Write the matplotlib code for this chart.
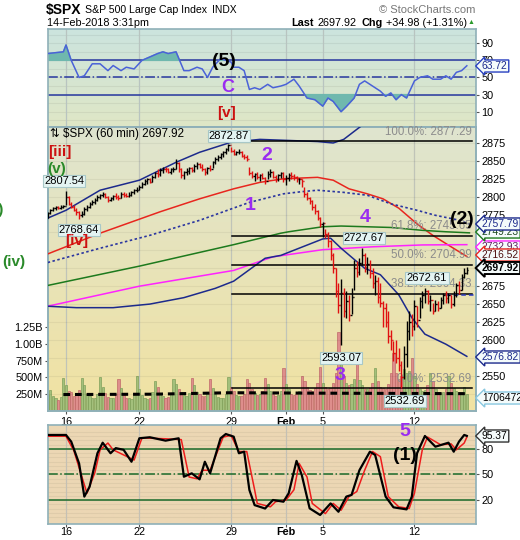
import numpy as np
import matplotlib.pyplot as plt
from matplotlib.colors import LinearSegmentedColormap

plt.rcParams['font.family'] = ['Liberation Sans', 'DejaVu Sans']

# hourly bars, index 0 = first hour of 12-Jan-2018, 7 bars per session
bar_high = [2778, 2783, 2786, 2787, 2787, 2789, 2789,
            2807.5, 2801, 2792, 2788, 2784, 2780, 2780,
            2785, 2788, 2792, 2795, 2798, 2802, 2804,
            2806, 2805, 2801, 2800, 2803, 2805, 2802,
            2806, 2807, 2805, 2806, 2808, 2811, 2813,
            2816, 2820, 2824, 2826, 2826, 2830, 2834,
            2838, 2840, 2841, 2842, 2840, 2840, 2841,
            2852, 2849, 2840, 2836, 2840, 2842, 2842,
            2846, 2848, 2847, 2845, 2840, 2842, 2844,
            2850, 2855, 2858, 2861, 2864, 2868, 2872.9,
            2870, 2866, 2864, 2866, 2864, 2860, 2858,
            2842, 2836, 2833, 2834, 2832, 2833, 2828,
            2836, 2839, 2836, 2830, 2832, 2835, 2834,
            2830, 2833, 2834, 2832, 2829, 2826, 2824,
            2813, 2806, 2800, 2796, 2790, 2782, 2772,
            2765, 2755, 2751, 2740, 2722, 2700, 2680,
            2685, 2672, 2668, 2662, 2672, 2712, 2710,
            2715, 2727.7, 2722, 2716, 2712, 2700, 2690,
            2688, 2680, 2654, 2652, 2640, 2614, 2598,
            2600, 2588, 2570, 2592, 2626, 2640, 2636,
            2656, 2648, 2660, 2668, 2672.6, 2670, 2662,
            2652, 2656, 2654, 2660, 2666, 2668, 2666,
            2662, 2668, 2680, 2682, 2692, 2700, 2702]
bar_low = [2770, 2776, 2780, 2782, 2783, 2783, 2784,
           2788, 2788, 2784, 2780, 2775, 2768.6, 2772,
           2775, 2780, 2784, 2788, 2790, 2794, 2797,
           2800, 2798, 2793, 2794, 2796, 2797, 2796,
           2798, 2800, 2799, 2799, 2801, 2804, 2806,
           2809, 2812, 2816, 2818, 2819, 2820, 2826,
           2828, 2829, 2833, 2834, 2833, 2832, 2834,
           2838, 2835, 2826, 2825, 2830, 2832, 2834,
           2834, 2838, 2840, 2836, 2830, 2832, 2836,
           2840, 2846, 2850, 2853, 2856, 2860, 2864,
           2862, 2858, 2858, 2860, 2855, 2852, 2850,
           2830, 2826, 2822, 2825, 2822, 2824, 2818,
           2824, 2828, 2826, 2820, 2822, 2826, 2820,
           2816, 2822, 2825, 2823, 2820, 2818, 2813,
           2800, 2795, 2790, 2782, 2776, 2768, 2758,
           2744, 2742, 2730, 2712, 2693, 2660, 2638,
           2593.1, 2632, 2630, 2626, 2636, 2670, 2688,
           2690, 2704, 2695, 2692, 2686, 2672, 2662,
           2652, 2646, 2618, 2618, 2596, 2586, 2570,
           2568, 2556, 2532.7, 2545, 2562, 2600, 2605,
           2614, 2618, 2630, 2645, 2652, 2650, 2640,
           2636, 2640, 2640, 2644, 2650, 2652, 2652,
           2645, 2648, 2660, 2664, 2670, 2686, 2692]
bar_close = [2777, 2782, 2784, 2785, 2784, 2786, 2787,
             2800, 2790, 2786, 2782, 2778, 2774, 2776,
             2783, 2786, 2790, 2793, 2796, 2800, 2802,
             2804, 2800, 2796, 2798, 2801, 2799, 2798,
             2804, 2802, 2801, 2803, 2806, 2809, 2810,
             2814, 2818, 2822, 2824, 2821, 2828, 2833,
             2832, 2837, 2839, 2838, 2835, 2838, 2839,
             2847, 2838, 2830, 2834, 2836, 2840, 2837,
             2843, 2845, 2842, 2838, 2834, 2840, 2839,
             2848, 2853, 2856, 2859, 2862, 2866, 2872,
             2864, 2860, 2862, 2863, 2857, 2855, 2853,
             2833, 2829, 2831, 2828, 2830, 2826, 2822,
             2832, 2834, 2828, 2825, 2830, 2833, 2824,
             2826, 2830, 2829, 2827, 2824, 2825, 2822,
             2804, 2798, 2794, 2785, 2780, 2770, 2762,
             2763, 2748, 2738, 2718, 2700, 2668, 2649,
             2665, 2640, 2655, 2635, 2660, 2700, 2695,
             2708, 2718, 2702, 2706, 2694, 2680, 2682,
             2660, 2652, 2645, 2625, 2605, 2600, 2581,
             2575, 2565, 2548, 2580, 2612, 2625, 2619.5,
             2648, 2628, 2655, 2662, 2668, 2655, 2656,
             2640, 2650, 2645, 2656, 2662, 2658, 2663,
             2650, 2662, 2676, 2670, 2688, 2694, 2697.9]
first_open = 2770
volume_m = [240, 310, 230, 190, 170, 210, 490,
            390, 300, 290, 230, 260, 310, 490,
            380, 260, 230, 200, 190, 260, 510,
            350, 270, 210, 190, 200, 250, 480,
            340, 250, 200, 190, 180, 240, 520,
            330, 240, 200, 180, 190, 280, 440,
            360, 270, 220, 200, 210, 250, 480,
            400, 320, 290, 240, 230, 270, 490,
            380, 290, 250, 220, 230, 280, 480,
            340, 250, 210, 200, 200, 250, 500,
            360, 300, 240, 220, 220, 260, 480,
            420, 330, 270, 240, 250, 300, 490,
            400, 300, 260, 230, 240, 300, 640,
            400, 320, 260, 240, 250, 300, 520,
            450, 360, 310, 300, 340, 420, 650,
            420, 350, 320, 340, 420, 560, 1180,
            760, 520, 420, 380, 400, 480, 860,
            460, 380, 330, 320, 340, 420, 640,
            440, 360, 340, 330, 400, 560, 860,
            560, 480, 520, 620, 560, 600, 790,
            520, 400, 330, 300, 310, 380, 560,
            440, 330, 290, 270, 280, 330, 520,
            420, 340, 300, 280, 290, 360, 260]
volma_idx = [6, 40, 70, 100, 130, 160]
volma_m = [245, 250, 272, 266, 262, 258]

# overlay lines (bar index, price)
navy_top_idx = [0, 7, 20, 35, 49, 58, 70, 81, 103, 109, 113, 118, 122]
navy_top_val = [2770, 2781, 2809, 2823, 2848, 2862, 2876, 2880, 2877, 2875, 2880, 2894, 2905]
red_idx = [0, 20, 43, 58, 71, 81, 90, 103, 109, 115, 122, 128, 134, 141, 147, 154, 160]
red_val = [2720, 2749, 2779, 2797, 2811, 2820, 2825, 2827, 2823, 2811, 2804, 2797, 2784,
           2762, 2746, 2730, 2716.5]
dot_idx = [0, 20, 39, 58, 77, 90, 97, 103, 113, 122, 131, 141, 148, 156, 161]
dot_val = [2708, 2728, 2746, 2767, 2792, 2804, 2807, 2809, 2806, 2802, 2790, 2781, 2774,
           2768, 2762]
green_idx = [0, 35, 71, 89, 92, 105, 112, 131, 143, 152, 161]
green_val = [2676, 2703, 2733, 2749, 2751, 2758, 2759, 2757, 2753, 2751, 2749.5]
mag_idx = [0, 35, 71, 86, 105, 124, 143, 160]
mag_val = [2647, 2675, 2697, 2716, 2726, 2730, 2732.6, 2733]
navy_low_idx = [0, 11, 25, 39, 52, 64, 71, 83, 89, 105, 108, 112, 121, 127, 134, 139, 144,
                152, 160]
navy_low_val = [2647, 2645, 2645, 2650, 2659, 2672, 2682, 2714, 2718, 2741, 2742, 2728,
                2700, 2691, 2663, 2631, 2608, 2594, 2577]
fib_pct = ['100.0%', '61.8%', '50.0%', '38.2%', '0.0%']
fib_val = [2877.29, 2745.65, 2704.99, 2664.33, 2532.69]

rsi_idx = [0, 6, 7, 9, 12, 14, 17, 20, 23, 25, 28, 30, 33, 36, 42, 44, 46, 49, 52, 54,
           57, 59, 61, 63, 66, 70, 71, 73, 75, 77, 79, 81, 84, 86, 89, 91, 94, 96, 99, 102,
           105, 107, 109, 112, 114, 117, 119, 121, 123, 127, 129, 131, 133, 135, 137, 140,
           142, 145, 147, 150, 152, 154, 156, 158, 160]
rsi_val = [78, 80, 88, 70, 50, 52, 66, 66, 58, 64, 58, 62, 60, 70, 78, 80, 78, 80, 58, 58,
           62, 60, 50, 62, 72, 68, 62, 62, 58, 36, 38, 36, 42, 38, 40, 42, 48, 40, 26, 24,
           16.5, 26, 22, 10, 16, 26, 42, 46, 42, 34, 28, 32, 24, 30, 26, 46, 50, 52, 48, 48,
           52, 48, 56, 58, 63.7]

stk_idx = [0, 7, 9, 12, 14, 16, 19, 21, 24, 26, 29, 32, 35, 39, 45, 50, 52, 55, 58, 60,
           62, 66, 68, 71, 73, 75, 77, 79, 83, 86, 90, 92, 95, 97, 100, 104, 108, 111, 114,
           116, 119, 123, 125, 129, 132, 137, 139, 141, 144, 148, 153, 155, 157, 159, 160]
stk_k = [96.5, 96.5, 88.6, 63, 24, 35.6, 75, 87.4, 75, 81, 79, 65, 92.6, 93.8, 89.8, 92.6,
         47.4, 51.4, 44.3, 65, 51.4, 92.6, 97.6, 94.5, 75, 76.8, 31.8, 14, 10, 20, 18, 27.9,
         66, 49.4, 10.2, 2.4, 16, 6.2, 24, 26, 55, 76.8, 73, 24, 11.4, 9, 24, 75, 95.3, 82.7,
         87.4, 76.8, 88.6, 96.5, 95.4]
std_idx = [0, 7, 10, 15, 18, 20, 23, 25, 33, 36, 45, 51, 54, 57, 59, 62, 67, 70, 73, 76,
           79, 80, 85, 87, 91, 94, 96, 99, 101, 106, 109, 112, 115, 118, 121, 124, 127, 130,
           134, 138, 140, 143, 145, 150, 154, 156, 159, 160]
std_d = [95, 95, 78, 28, 52, 79, 87, 79, 67, 93, 92, 91, 47, 45, 55, 55, 94, 96, 77, 77,
         32, 16, 12, 18, 20, 32, 63, 47, 16, 4, 16, 8, 24, 30, 55, 77, 71, 24, 12, 10, 28,
         79, 94, 85, 86, 79, 87, 94]

day_ticks = [7, 35, 70, 91, 105, 140]
day_labels = ['16', '22', '29', 'Feb', '5', '12']

# ---------------------------------------------------------------------------
W, H = 520, 540
fig = plt.figure(figsize=(W / 100, H / 100), dpi=100)
fig.patch.set_facecolor('white')
TICK_FS = 7.8


def fx(x):
    return x / W


def fy(y):
    return 1 - y / H


def panel(l, t, r, b, **kw):
    return fig.add_axes([fx(l), fy(b), (r - l) / W, (b - t) / H], **kw)


def gradient(a, top, bottom):
    cmap = LinearSegmentedColormap.from_list('bg', [bottom, top])
    a.imshow(np.linspace(0, 1, 100).reshape(-1, 1), cmap=cmap, aspect='auto',
             extent=(0, 1, 0, 1), transform=a.transAxes, origin='lower', zorder=0)


def frame(a):
    for s in a.spines.values():
        s.set_color('#8fb0b8')
        s.set_linewidth(1.2)
    a.tick_params(colors='#555555', labelcolor='black', length=2.5, width=0.8,
                  labelsize=TICK_FS, pad=1.5)


def bold_feb(a):
    for lab in a.get_xticklabels():
        if lab.get_text() == 'Feb':
            lab.set_fontweight('bold')


XLIM = (0.13, 163.5)
n = len(bar_close)
idx = np.arange(n)
bar_open = [first_open] + bar_close[:-1]
up = [bar_close[i] >= bar_open[i] for i in range(n)]

# ---- top panel: RSI ----
ax_r = panel(48, 29, 476, 127)
gradient(ax_r, '#cce4de', '#dfe7c6')
ax_r.set_xlim(*XLIM)
ax_r.set_ylim(-7.9, 106.7)
for v in range(0, 101, 10):
    ax_r.axhline(v, color='black', alpha=0.06, lw=0.8, zorder=1)
for t in day_ticks:
    ax_r.axvline(t, color='#b8c4c0', lw=0.9, zorder=1)
ax_r.axhline(70, color='#2838a0', lw=1.1, zorder=2)
ax_r.axhline(30, color='#2838a0', lw=1.1, zorder=2)
ax_r.axhline(50, color='#2838a0', lw=1.1, ls='-.', zorder=2)
rv = np.array(rsi_val)
ax_r.fill_between(rsi_idx, rv, 70, where=rv > 70, interpolate=True, color='#6fb8ae',
                  zorder=2)
ax_r.fill_between(rsi_idx, rv, 30, where=rv < 30, interpolate=True, color='#6fb8ae',
                  zorder=2)
ax_r.plot(rsi_idx, rsi_val, color='#4a62d8', lw=1.1, zorder=3)
ax_r.yaxis.tick_right()
ax_r.set_yticks([10, 30, 50, 70, 90])
ax_r.set_xticks([])
frame(ax_r)

# ---- main panel: volume underneath, price on top ----
ax_v = panel(48, 127, 476, 411)
gradient(ax_v, '#dfe5cf', '#f1e2a2')
ax_v.set_xlim(*XLIM)
ax_v.set_ylim(0, 4226)
for t in day_ticks:
    ax_v.axvline(t, color='#c0c4b8', lw=0.9, zorder=1)
vcol = ['#a3c07c' if u else '#de8e8c' for u in up]
vedge = ['#7fa05a' if u else '#c06a6a' for u in up]
ax_v.bar(idx, volume_m, width=0.85, color=vcol, edgecolor=vedge, lw=0.5, zorder=2)
ax_v.plot(volma_idx, volma_m, color='black', lw=2.2, ls=(0, (2.2, 1.6)), zorder=3)
ax_v.set_yticks([250, 500, 750, 1000, 1250])
ax_v.set_yticklabels(['250M', '500M', '750M', '1.00B', '1.25B'])
ax_v.set_xticks([])
frame(ax_v)

ax = panel(48, 127, 476, 411, facecolor='none')
ax.set_xlim(*XLIM)
ax.set_ylim(2500.7, 2897.3)
for v in range(2525, 2900, 25):
    ax.axhline(v, color='black', alpha=0.05, lw=0.8, zorder=1)
ax.plot(navy_top_idx, navy_top_val, color='#1c2a8c', lw=1.1, zorder=3)
ax.plot(red_idx, red_val, color='#e8261e', lw=1.1, zorder=3)
ax.plot(dot_idx, dot_val, color='#2a35a0', lw=1.2, ls=(0, (1.5, 1.5)), zorder=3)
ax.plot(green_idx, green_val, color='#1d7a1d', lw=1.1, zorder=3)
ax.plot(mag_idx, mag_val, color='#ff22ff', lw=1.1, zorder=3)
ax.plot(navy_low_idx, navy_low_val, color='#1c2a8c', lw=1.1, zorder=3)
for p, v in zip(fib_pct, fib_val):
    ax.plot([70.5, 162], [v, v], color='black', lw=1.1, zorder=3)
    ax.annotate(f'{p}: {v:.2f}', xy=(161.8, v), xytext=(0, 2.5), textcoords='offset points',
                ha='right', va='bottom', fontsize=8.3, color='#8c8c8c', zorder=4)
ax.plot([152, 163.5], [2662.5, 2662.5], color='#2838c0', lw=1.1, ls=(0, (3, 2)), zorder=3)

bcol = ['black' if u else '#e01010' for u in up]
ax.vlines(idx, bar_low, bar_high, colors=bcol, lw=1.0, zorder=5)
ax.hlines(bar_open, idx - 0.5, idx, colors=bcol, lw=1.0, zorder=5)
ax.hlines(bar_close, idx, idx + 0.5, colors=bcol, lw=1.0, zorder=5)

ax.yaxis.tick_right()
ax.set_yticks([2550, 2600, 2625, 2650, 2675, 2775, 2800, 2825, 2850, 2875])
ax.set_xticks(day_ticks)
ax.set_xticklabels(day_labels)
frame(ax)
bold_feb(ax)

# price callouts
box = dict(boxstyle='square,pad=0.12', fc='#e4f4f2', ec='#a8c8c8', lw=0.8)
for v, (px, py) in [(2807.54, (64, 181)), (2768.64, (79, 230)), (2872.87, (229, 136)),
                    (2727.67, (364, 238)), (2593.07, (341, 358)), (2672.61, (427, 278)),
                    (2532.69, (405, 401))]:
    fig.text(fx(px), fy(py), f'{v:.2f}', ha='center', va='center', fontsize=8,
             bbox=box, zorder=10)

fig.text(fx(50), fy(134), '\u21c5 $SPX (60 min) 2697.92', ha='left', va='center',
         fontsize=8.4)

# ---- lower panel: slow stochastics ----
ax_s = panel(48, 425, 476, 524)
gradient(ax_s, '#ecd7b4', '#ecd7b4')
ax_s.set_xlim(*XLIM)
ax_s.set_ylim(-8.2, 108.2)
for v in range(0, 101, 5):
    ax_s.axhline(v, color='black', alpha=0.05, lw=0.8, zorder=1)
for t in day_ticks:
    ax_s.axvline(t, color='#c4c0b4', lw=0.9, zorder=1)
ax_s.axhline(80, color='#1a6a2a', lw=1.1, zorder=2)
ax_s.axhline(20, color='#1a6a2a', lw=1.1, zorder=2)
ax_s.axhline(50, color='#1a6a2a', lw=1.1, ls='-.', zorder=2)
ax_s.plot(std_idx, std_d, color='#ee1c1c', lw=1.1, zorder=3)
ax_s.plot(stk_idx, stk_k, color='black', lw=1.6, zorder=4)
ax_s.yaxis.tick_right()
ax_s.set_yticks([20, 50, 80])
ax_s.set_xticks(day_ticks)
ax_s.set_xticklabels(day_labels)
frame(ax_s)
ax_s.tick_params(axis='x', length=2, pad=0.5)
bold_feb(ax_s)

# ---- right-edge value tags ----
def tag(y, text, ec, tc, bold=False, lw=1.0):
    fig.text(fx(482), fy(y), text, ha='left', va='center', fontsize=7.4, color=tc,
             fontweight='bold' if bold else 'normal', zorder=12,
             bbox=dict(boxstyle='larrow,pad=0.1', fc='#f4fbfb', ec=ec, lw=lw))


tag(66, '63.72', '#2840c0', '#1c2a8c')
tag(247, '2732.93', '#ff22ff', '#602060')
tag(232, '2749.23', '#1d7a1d', '#1d4a1d')
tag(224, '2757.79', '#1c2a8c', '#1c2a8c')
tag(255, '2716.52', '#e8261e', '#501010')
tag(268, '2697.92', 'black', 'black', bold=True, lw=1.4)
tag(357, '2576.82', '#1c2a8c', '#1c2a8c')
tag(398, '1706472', '#88c8e0', 'black')
tag(436, '95.37', '#333333', 'black')

# ---- header ----
fig.text(fx(46), fy(10), '$SPX', fontsize=10, fontweight='bold', va='center')
fig.text(fx(85), fy(10), 'S&P 500 Large Cap Index', fontsize=7.6, va='center')
fig.text(fx(212), fy(10), 'INDX', fontsize=7.4, va='center')
fig.text(fx(47), fy(23), '14-Feb-2018 3:31pm', fontsize=7.8, va='center')
fig.text(fx(475), fy(10), '\u00a9 StockCharts.com', fontsize=8, va='center',
         ha='right', color='#777777')
fig.text(fx(291), fy(23), 'Last', fontsize=7.8, va='center', fontweight='bold')
fig.text(fx(317), fy(23), '2697.92', fontsize=7.8, va='center')
fig.text(fx(362), fy(23), 'Chg', fontsize=7.8, va='center', fontweight='bold')
fig.text(fx(386), fy(23), '+34.98 (+1.31%)', fontsize=7.8, va='center')
fig.text(fx(471), fy(23), '\u25b2', fontsize=5, va='center', ha='center',
         color='#2a9a2a')

# ---- wave labels ----
purple = '#9a2cf0'
for txt, x, y, c, s in [('(5)', 224, 61, 'black', 14), ('C', 228, 87, purple, 13),
                        ('[v]', 227, 113, '#cc1111', 11),
                        ('[iii]', 60, 152, '#cc1111', 11), ('(v)', 57, 169, '#2a8a2a', 11),
                        ('[iv]', 77, 241, '#cc1111', 11), ('(iv)', 14, 262, '#2a8a2a', 11),
                        ('2', 267, 156, purple, 14), ('1', 250, 205, purple, 14),
                        ('4', 365, 218, purple, 14), ('3', 340, 376, purple, 14),
                        ('5', 405, 432, purple, 14), ('(2)', 462, 219, 'black', 14),
                        ('(1)', 405, 455, 'black', 14)]:
    fig.text(fx(x), fy(y), txt, ha='center', va='center', fontsize=s, color=c,
             fontweight='bold', zorder=11)
fig.text(fx(4), fy(210), '(iii)', ha='right', va='center', fontsize=11,
         color='#2a8a2a', fontweight='bold')

fig.savefig('out.png', dpi=100)
